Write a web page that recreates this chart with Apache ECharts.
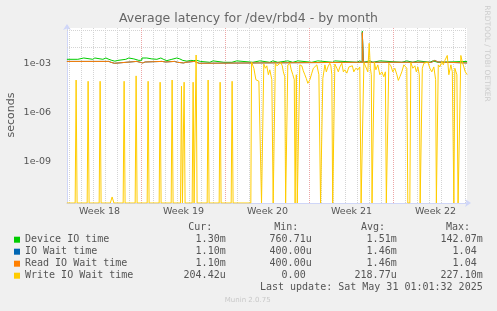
<!DOCTYPE html>
<html><head><meta charset="utf-8">
<script src="https://cdn.jsdelivr.net/npm/echarts@6/dist/echarts.min.js"></script>
<style>html,body{margin:0;padding:0;background:#F0F0F0;}#c{width:497px;height:311px;}</style>
</head><body><div id="c"></div>
<script>
// ---------- data ----------
const chartTitle = 'Average latency for /dev/rbd4 - by month';
const weekLabels = ['Week 18', 'Week 19', 'Week 20', 'Week 21', 'Week 22'];
const weekCenters = [3.5, 10.5, 17.5, 24.5, 31.5];          // days
const yTickValues = [1e-9, 1e-6, 1e-3];
const yTickLabels = ['1e-09', '1e-06', '1e-03'];
const seriesNames = ['Device IO time', 'IO Wait time', 'Read IO Wait time', 'Write IO Wait time'];
const seriesColors = ['#00CC00', '#0066B3', '#FF8000', '#FFCC00'];
const statCur = ['1.30m', '1.10m', '1.10m', '204.42u'];
const statMin = ['760.71u', '400.00u', '400.00u', '0.00 '];
const statAvg = ['1.51m', '1.46m', '1.46m', '218.77u'];
const statMax = ['142.07m', '1.04 ', '1.04 ', '227.10m'];
const lastUpdate = 'Last update: Sat May 31 01:01:32 2025';

// [day, seconds] pairs; value holds until next point
const deviceIO = [
  [0.78,1.75e-3],[1.69,2.1e-3],[2.19,1.75e-3],[2.94,2.1e-3],[3.11,1.75e-3],[3.78,2.1e-3],[4.03,1.75e-3],
  [4.28,1.5e-3],[4.53,1.35e-3],[4.78,1.5e-3],[5.03,1.75e-3],[5.69,2.1e-3],[5.94,1.85e-3],[6.36,1.5e-3],
  [6.78,1.55e-3],[7.03,2.1e-3],[7.44,1.85e-3],[7.86,1.75e-3],[8.28,2.1e-3],[8.61,1.7e-3],[8.86,1.45e-3],
  [9.11,1.75e-3],[9.53,2.1e-3],[9.94,1.85e-3],[10.19,1.5e-3],[10.44,1.35e-3],[10.78,1.5e-3],[11.11,1.45e-3],
  [11.36,1.5e-3],[11.61,1.3e-3],[11.9,1.15e-3],
  [12.69,1.4e-3],[12.96,1.15e-3],[13.86,1.4e-3],[13.94,1.15e-3],[14.53,1.4e-3],[14.94,1.15e-3],
  [16.28,1.4e-3],[16.86,1.15e-3],[17.69,1.4e-3],[17.94,1.15e-3],[18.36,1.4e-3],[19.19,1.15e-3],
  [19.61,1.4e-3],[20.03,1.15e-3],[21.19,1.4e-3],[21.69,1.15e-3],[22.94,1.4e-3],[23.11,1.15e-3],
  [24.94,1.4e-3],[25.19,1.15e-3],[25.4,0.09],[25.48,1.15e-3],[25.61,1.4e-3],[26.03,1.15e-3],
  [26.28,1.4e-3],[26.86,1.15e-3],[28.69,1.4e-3],[29.11,1.15e-3],[29.61,1.4e-3],[30.03,1.15e-3],
  [31.03,1.4e-3],[31.28,1.15e-3],[31.69,1.3e-3],[34.13,1.3e-3]
];
const readIO = [
  [0.78,1.3e-3],[4.28,1.15e-3],[4.45,1.0e-3],[4.75,1.15e-3],[4.9,1.3e-3],[6.6,1.15e-3],[6.9,1.05e-3],
  [7.1,1.2e-3],[7.3,1.3e-3],[8.7,1.2e-3],[9.0,1.3e-3],[9.75,1.15e-3],[10.0,1.05e-3],[10.5,1.15e-3],
  [10.7,1.3e-3],[11.4,1.15e-3],[11.55,1.0e-3],[11.8,1.15e-3],[25.4,0.075],[25.48,1.15e-3],
  [31.17,1.5e-3],[31.44,1.2e-3],[31.7,1.05e-3],[34.13,1.1e-3]
];
const ioWait = readIO; // identical to read wait (same stats)
const writeIO = [
  [0.78,0],[1.47,0],[1.55,9.5e-5],[1.63,0],[2.47,0],[2.55,8e-5],[2.63,0],[3.47,0],[3.55,8e-5],[3.63,0],
  [4.4,0],[4.55,7e-12],[4.7,0],[5.47,0],[5.55,8e-5],[5.63,0],[6.47,0],[6.55,1.7e-4],[6.63,0],
  [7.47,0],[7.55,8e-5],[7.63,0],[8.47,0],[8.55,7e-5],[8.63,0],[9.47,0],[9.55,9.5e-5],[9.63,0],
  [10.25,0],[10.33,4e-5],[10.41,0],[10.47,0],[10.55,7e-5],[10.63,0],[11.22,0],[11.3,7e-5],[11.38,0],
  [11.47,0],[11.55,3.2e-3],[11.63,0],[12.47,0],[12.55,9.5e-5],[12.63,0],[13.47,0],[13.55,7e-5],[13.63,0],
  [14.47,0],[14.55,8e-5],[14.63,0],
  [16.11,0],[16.17,1.2e-3],[16.36,5e-4],[16.53,1.0e-4],[16.65,1.3e-4],[16.78,8e-5],[16.9,1.0e-4],[17.0,0],
  [17.13,0],[17.19,9e-4],[17.32,5e-4],[17.44,7e-4],[17.57,2e-4],[17.69,4e-4],[17.86,1e-4],[17.97,0],
  [18.07,0],[18.15,1e-3],[18.28,7e-4],[18.44,8e-4],[18.61,1.1e-3],[18.73,7e-4],[18.82,3e-4],[18.94,1.5e-4],[19.01,0],
  [19.11,0],[19.19,8e-4],[19.36,1e-3],[19.48,4e-4],[19.61,2e-4],[19.73,1e-4],[19.8,0],[19.9,2e-4],[19.98,0],
  [20.13,0],[20.19,8e-4],[20.36,7e-4],[20.48,3.5e-4],[20.61,2e-4],[20.73,1.2e-4],[20.86,6e-5],[21.03,1e-4],
  [21.19,2.5e-4],[21.32,5e-4],[21.44,6e-4],[21.61,8e-4],[21.78,2e-4],[21.92,0],
  [22.03,0],[22.11,1.2e-4],[22.28,8e-4],[22.4,3e-4],[22.53,6e-4],[22.69,1e-3],[22.78,7e-4],[22.86,2e-4],[22.93,0],
  [23.03,0],[23.11,9e-4],[23.28,5e-4],[23.4,3e-4],[23.53,6e-4],[23.69,1e-3],[23.82,3e-4],[23.94,4e-4],
  [24.11,2.5e-4],[24.28,6e-4],[24.44,5e-4],[24.57,7e-4],[24.69,3e-4],[24.86,5e-4],[25.03,4e-4],[25.19,6e-4],[25.3,0],
  [25.44,0],[25.53,1.1e-3],[25.69,6e-4],[25.86,3e-4],[25.97,1.65e-2],[26.07,5e-4],[26.15,2e-4],[26.21,0],
  [26.3,0],[26.4,1.2e-3],[26.53,4e-4],[26.69,8e-4],[26.86,2e-4],[27.03,3e-4],[27.19,1.5e-4],[27.32,3e-4],[27.4,0],
  [27.53,0],[27.61,1e-3],[27.78,7e-4],[27.94,3e-4],[28.11,5e-4],[28.28,2e-4],[28.4,9e-5],[28.53,1.5e-4],
  [28.69,3e-4],[28.86,8e-4],[28.98,1e-3],[29.11,5e-4],[29.19,0],
  [29.36,0],[29.44,1.1e-3],[29.61,5e-4],[29.78,7e-4],[29.9,3e-4],[30.03,6e-4],[30.15,2e-4],[30.22,0],
  [30.32,0],[30.4,5e-4],[30.53,1e-3],[30.69,8e-4],[30.86,1.2e-3],[31.03,5e-4],[31.19,3e-4],[31.36,6e-4],[31.51,1e-4],[31.57,0],
  [31.65,0],[31.73,8e-4],[31.86,6e-4],[32.03,1.3e-3],[32.15,8e-4],[32.28,1.5e-3],[32.48,3e-3],[32.61,2e-4],
  [32.78,8e-4],[32.9,3e-4],[33.03,0],[33.11,5e-4],[33.28,2e-4],[33.38,0],
  [33.48,0],[33.61,3e-3],[33.73,1.2e-3],[33.86,6e-4],[33.98,3e-4],[34.13,2.04e-4]
];

// ---------- layout / style ----------
const X_MIN = 0.79, X_MAX = X_MIN + 400 / 12;
const Y_MIN = 3e-12, Y_MAX = 0.14207;
const FONT = "'DejaVu Sans', sans-serif";
const MONO = "'DejaVu Sans Mono', monospace";
const TXT = '#555';
const MINOR = {color: '#d4d4d4', width: 1, type: [1, 1]};
const MAJOR = {color: '#eca6a6', width: 1, type: [1, 1]};
const AXIS = '#CFD6F8';

const gridLines = [];
for (let d = Math.ceil(X_MIN); d <= Math.floor(X_MAX); d++) if (d % 7) gridLines.push({xAxis: d, lineStyle: MINOR});
for (let e = -11; e <= -1; e++) if (e % 3) gridLines.push({yAxis: Math.pow(10, e), lineStyle: MINOR});
for (let d = Math.ceil(X_MIN); d <= Math.floor(X_MAX); d++) if (!(d % 7)) gridLines.push({xAxis: d, lineStyle: MAJOR});
for (let e = -9; e <= -3; e += 3) gridLines.push({yAxis: Math.pow(10, e), lineStyle: MAJOR});

const toLog = arr => arr.map(p => [p[0], p[1] > 0 ? p[1] : Y_MIN]);
const seriesData = [deviceIO, ioWait, readIO, writeIO];

const series = [{
  name: '_grid', type: 'line', data: [], z: 1, silent: true,
  markLine: {silent: true, z: 1, symbol: ['none', 'none'], label: {show: false}, animation: false, data: gridLines}
}];
seriesData.forEach((d, i) => series.push({
  name: seriesNames[i], type: 'line', data: toLog(d), z: 2 + i,
  step: i < 3 ? 'end' : false, showSymbol: false, symbol: 'none', color: seriesColors[i],
  lineStyle: {width: 1, color: seriesColors[i]}, animation: false
}));

const graphic = [];
const hdrY = 227.7, rowY0 = 239.7, rowH = 12;
[['Cur:', 212.3], ['Min:', 298.3], ['Avg:', 385], ['Max:', 470]].forEach(h => graphic.push({
  type: 'text', x: h[1], y: hdrY, style: {text: h[0], font: '10px ' + MONO, fill: TXT, align: 'right', verticalAlign: 'middle'}
}));
[[statCur, 225.7], [statMin, 311.7], [statAvg, 396.7], [statMax, 482.7]].forEach(col => col[0].forEach((s, i) => graphic.push({
  type: 'text', x: col[1], y: rowY0 + i * rowH, style: {text: s, font: '10px ' + MONO, fill: TXT, align: 'right', verticalAlign: 'middle'}
})));
graphic.push({type: 'text', x: 482.7, y: 287.7, style: {text: lastUpdate, font: '10px ' + MONO, fill: TXT, align: 'right', verticalAlign: 'middle'}});
graphic.push({type: 'text', x: 247.7, y: 300.3, style: {text: 'Munin 2.0.75', font: '7px ' + FONT, fill: '#c8c8c8', align: 'center', verticalAlign: 'middle'}});
graphic.push({type: 'text', x: 487.3, y: 53.5, rotation: -Math.PI / 2, style: {text: 'RRDTOOL / TOBI OETIKER', font: '7.5px ' + FONT, fill: '#cccccc', align: 'center', verticalAlign: 'middle'}});
graphic.push({type: 'text', x: 11, y: 115, rotation: Math.PI / 2, style: {text: 'seconds', font: '11px ' + FONT, fill: TXT, align: 'center', verticalAlign: 'middle'}});

const chart = echarts.init(document.getElementById('c'), null, {renderer: 'canvas', width: 497, height: 311});
chart.setOption({
  backgroundColor: '#F0F0F0',
  animation: false,
  textStyle: {fontFamily: FONT},
  title: {text: chartTitle, left: 'center', top: 12, padding: 0,
    textStyle: {fontFamily: FONT, fontSize: 12.5, fontWeight: 'normal', color: '#666'}},
  grid: {left: 67, top: 28, width: 400, height: 175, backgroundColor: '#FFFFFF', show: true, borderWidth: 0},
  legend: {
    data: seriesNames, orient: 'vertical', left: 14, top: 233.7, padding: 0, itemGap: 0,
    itemWidth: 6, itemHeight: 6, icon: 'rect', selectedMode: false,
    textStyle: {fontFamily: MONO, fontSize: 10, color: TXT, lineHeight: 12, padding: 0}
  },
  xAxis: {
    type: 'value', min: X_MIN, max: X_MAX,
    axisLine: {show: true, onZero: false, lineStyle: {color: AXIS, width: 1}, symbol: ['none', 'arrow'], symbolSize: [6, 6], symbolOffset: [0, 4]},
    axisTick: {show: false}, splitLine: {show: false},
    axisLabel: {
      customValues: weekCenters, margin: 4, fontFamily: FONT, fontSize: 9.5, color: TXT,
      formatter: v => { const i = weekCenters.findIndex(c => Math.abs(c - v) < 1e-6); return i >= 0 ? weekLabels[i] : ''; }
    }
  },
  yAxis: {
    type: 'log', logBase: 10, min: Y_MIN, max: Y_MAX,
    axisLine: {show: true, lineStyle: {color: AXIS, width: 1}, symbol: ['none', 'arrow'], symbolSize: [6, 6], symbolOffset: [0, 4]},
    axisTick: {show: false}, splitLine: {show: false},
    axisLabel: {
      customValues: yTickValues, margin: 16, fontFamily: FONT, fontSize: 9.5, color: TXT,
      formatter: v => {
        for (let i = 0; i < yTickValues.length; i++) {
          const t = yTickValues[i];
          if (Math.abs(v - t) <= t * 1e-6 || Math.abs(v - Math.log10(t)) < 1e-6) return yTickLabels[i];
        }
        return '';
      }
    }
  },
  graphic: graphic,
  series: series
});
</script></body></html>
